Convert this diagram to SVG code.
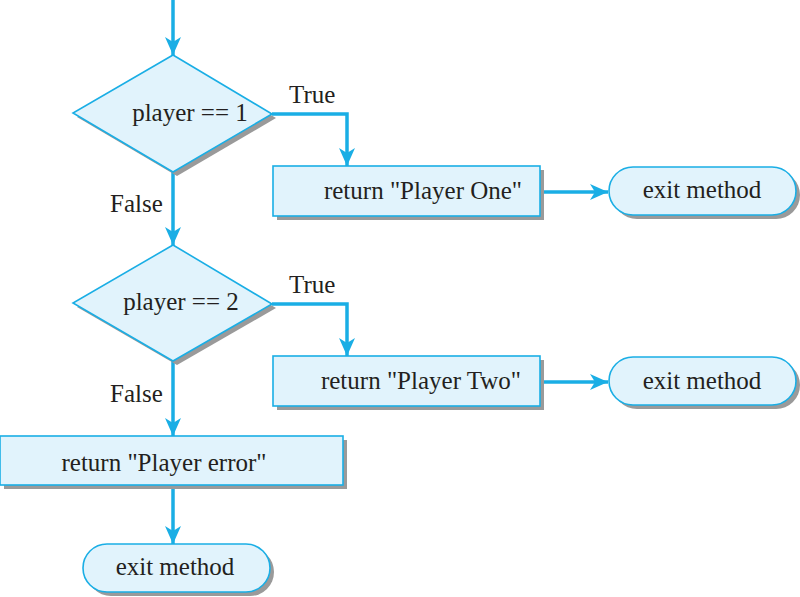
<svg xmlns="http://www.w3.org/2000/svg" width="800" height="597" viewBox="0 0 800 597">
<style>
.shape{fill:#e1f3fc;stroke:#1aaee5;stroke-width:1.6}
.shadow{fill:#9a9a9a;stroke:none}
.conn{fill:none;stroke:#1aaee5;stroke-width:3.5;marker-end:url(#arr)}
text{font-family:"Liberation Serif","Times New Roman",serif;font-size:25px;fill:#231f20}
.c{text-anchor:middle}
</style>
<defs>
<marker id="arr" markerUnits="userSpaceOnUse" markerWidth="20" markerHeight="16" refX="18" refY="8" orient="auto">
<path d="M0,0 L18,8 L0,16 L5,8 z" fill="#1aaee5"/>
</marker>
</defs>
<rect width="800" height="597" fill="#ffffff"/>
<g id="connectors">
<path class="conn" d="M173,0 V55"/>
<path class="conn" d="M272,114 H347 V166"/>
<path class="conn" d="M173,172 V245"/>
<path class="conn" d="M540,192 H608"/>
<path class="conn" d="M272,304 H347 V356"/>
<path class="conn" d="M540,382 H608"/>
<path class="conn" d="M173,361 V436"/>
<path class="conn" d="M173,485 V544"/>
</g>
<g id="labels">
<text x="289" y="103">True</text>
<text x="110" y="212">False</text>
<text x="289" y="293">True</text>
<text x="110" y="402">False</text>
</g>
<g id="decision1">
<polygon class="shadow" points="177,59 276,118 177,176 77,117"/>
<polygon class="shape" points="173,55 272,114 173,172 73,113"/>
<text class="c" x="190" y="121">player == 1</text>
</g>
<g id="return1">
<rect class="shadow" x="277" y="170" width="267" height="50"/>
<rect class="shape" x="273" y="166" width="267" height="50"/>
<text class="c" x="423" y="199">return "Player One"</text>
</g>
<g id="exit1">
<rect class="shadow" x="613" y="171" width="187" height="48" rx="24"/>
<rect class="shape" x="609" y="167" width="187" height="48" rx="24"/>
<text class="c" x="702" y="198">exit method</text>
</g>
<g id="decision2">
<polygon class="shadow" points="177,249 276,308 177,365 77,307"/>
<polygon class="shape" points="173,245 272,304 173,361 73,303"/>
<text class="c" x="181" y="310">player == 2</text>
</g>
<g id="return2">
<rect class="shadow" x="277" y="360" width="267" height="50"/>
<rect class="shape" x="273" y="356" width="267" height="50"/>
<text class="c" x="421" y="389">return "Player Two"</text>
</g>
<g id="exit2">
<rect class="shadow" x="613" y="361" width="187" height="48" rx="24"/>
<rect class="shape" x="609" y="357" width="187" height="48" rx="24"/>
<text class="c" x="702" y="389">exit method</text>
</g>
<g id="return3">
<rect class="shadow" x="4" y="440" width="343" height="49"/>
<rect class="shape" x="0" y="436" width="343" height="49"/>
<text class="c" x="164" y="471">return "Player error"</text>
</g>
<g id="exit3">
<rect class="shadow" x="87" y="548" width="187" height="48" rx="24"/>
<rect class="shape" x="83" y="544" width="187" height="48" rx="24"/>
<text class="c" x="175" y="575">exit method</text>
</g>
</svg>
